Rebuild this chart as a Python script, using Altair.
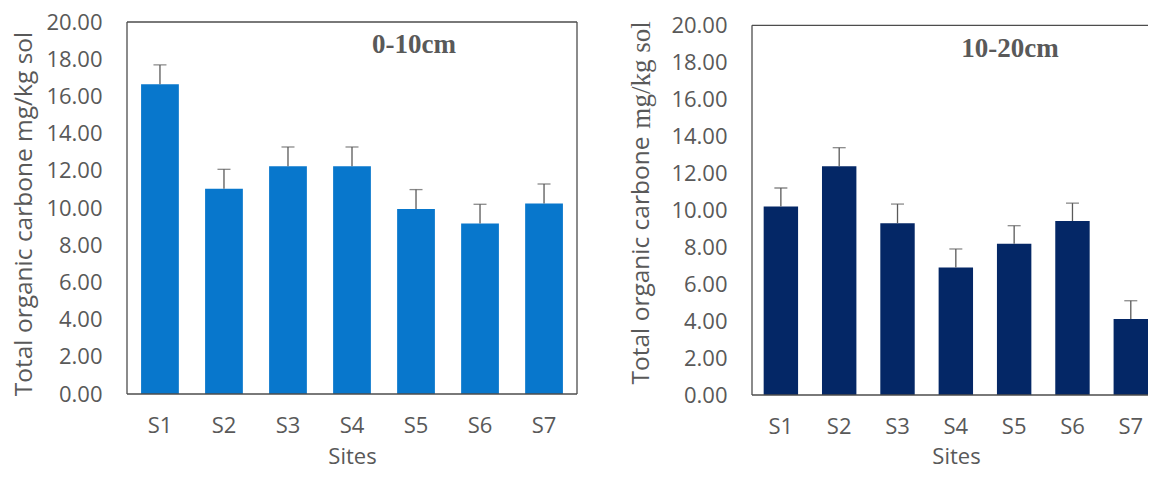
import altair as alt
import pandas as pd

# ---- data ----
sites = ["S1", "S2", "S3", "S4", "S5", "S6", "S7"]
toc_0_10 = [16.65, 11.04, 12.24, 12.24, 9.95, 9.16, 10.24]
err_0_10 = [1.04, 1.04, 1.04, 1.04, 1.04, 1.04, 1.05]
toc_10_20 = [10.20, 12.38, 9.29, 6.90, 8.18, 9.41, 4.11]
err_10_20 = [1.00, 1.00, 1.04, 1.00, 0.98, 0.97, 0.99]
panel_titles = ["0-10cm", "10-20cm"]
y_ticks = [0, 2, 4, 6, 8, 10, 12, 14, 16, 18, 20]

GRAY = "#595959"
FRAME = "#4d4d4d"


def panel(values, errs, title, color, width, height, ymax, xscale,
          ytitle, title_x, title_y, ytitle_x, ytitle_y, xtitle_x, xtitle_y,
          right_side=True, extra_text=None):
    df = pd.DataFrame({"site": sites, "toc": values, "err": errs})
    df["hi"] = df["toc"] + df["err"]
    one = pd.DataFrame({"title": [title], "top": [20], "bottom": [0]})

    xaxis = alt.Axis(title="Sites", labelAngle=0, ticks=False, domain=False,
                     labelPadding=21.5, titleX=xtitle_x, titleY=xtitle_y,
                     titleBaseline="middle", titleAlign="center",
                     labelFont="Open Sans", labelFontSize=22, labelColor=GRAY,
                     titleFontSize=22, labelOverlap=False)
    yscale = alt.Scale(domain=[0, ymax], nice=False, zero=True)
    yaxis = alt.Axis(values=y_ticks, format=".2f", ticks=False,
                     domain=False, grid=False, labelPadding=25, labelOverlap=False,
                     labelFont="Open Sans", labelFontSize=22, labelColor=GRAY,
                     title=ytitle,
                     titleX=ytitle_x, titleY=ytitle_y, titleAngle=270,
                     titleAlign="center", titleBaseline="middle",
                     titleFontSize=24.5)

    def X():
        return alt.X("site:N", sort=sites, scale=xscale, axis=xaxis)

    def Y(field):
        return alt.Y(field, scale=yscale, axis=yaxis)

    base = alt.Chart(df)
    bars = base.mark_bar(color=color).encode(x=X(), y=Y("toc:Q"))
    rules = base.mark_rule(color=GRAY, strokeWidth=1.3).encode(
        x=X(), y=Y("hi:Q"), y2="toc:Q")
    caps = base.mark_tick(color=GRAY, size=13, thickness=1.3).encode(
        x=X(), y=Y("hi:Q"))

    fr = alt.Chart(one)
    top_line = fr.mark_rule(color=FRAME, strokeWidth=1.3).encode(
        x=alt.value(0), x2=alt.value(width), y=Y("top:Q"))
    bottom_line = fr.mark_rule(color=FRAME, strokeWidth=1.3).encode(
        x=alt.value(0), x2=alt.value(width), y=Y("bottom:Q"))
    left_line = fr.mark_rule(color=FRAME, strokeWidth=1.3).encode(
        x=alt.value(0), y=Y("top:Q"), y2="bottom:Q")
    layers = [bars, rules, caps, top_line, bottom_line, left_line]
    if right_side:
        layers.append(fr.mark_rule(color=FRAME, strokeWidth=1.3).encode(
            x=alt.value(width), y=Y("top:Q"), y2="bottom:Q"))

    ttl = fr.mark_text(font="Liberation Serif", fontWeight="bold", fontSize=27,
                       color=GRAY, align="center", baseline="middle").encode(
        x=alt.value(title_x), y=alt.value(title_y), text="title:N")
    layers.append(ttl)
    if extra_text is not None:
        etxt, ex, ey = extra_text
        ex_df = pd.DataFrame({"t": [etxt]})
        layers.append(alt.Chart(ex_df).mark_text(font="Liberation Serif", fontSize=27, color=GRAY,
                                                 angle=270, align="center", baseline="middle").encode(
            x=alt.value(ex), y=alt.value(ey), text="t:N"))
    return alt.layer(*layers).properties(width=width, height=height)


left = panel(toc_0_10, err_0_10, panel_titles[0], "#0877cc", 450, 372, 20,
             alt.Scale(paddingInner=0.41, paddingOuter=0.22),
             "Total organic carbone mg/kg sol", 287, 23, -103, 191.5, 225, 62)

right = panel(toc_10_20, err_10_20, panel_titles[1], "#042766", 396, 373, 20.18,
              alt.Scale(paddingInner=0.41, paddingOuter=0.1, align=1),
              "Total organic carbone", 258, 27, -110.3, 238, 204, 61,
              right_side=False, extra_text=("mg/kg sol", -110, 53))

chart = alt.hconcat(left, right, spacing=175, bounds="flush").properties(
    padding={"left": 2, "top": 3, "right": 0, "bottom": 2}
).configure_view(stroke=None).configure_axis(
    grid=False, labelFont="Open Sans", labelColor=GRAY,
    labelOverlap=False, titleFont="Open Sans", titleColor=GRAY, titleFontWeight="normal"
)

chart.save("out.html", embed_options={"renderer": "svg", "actions": False})
